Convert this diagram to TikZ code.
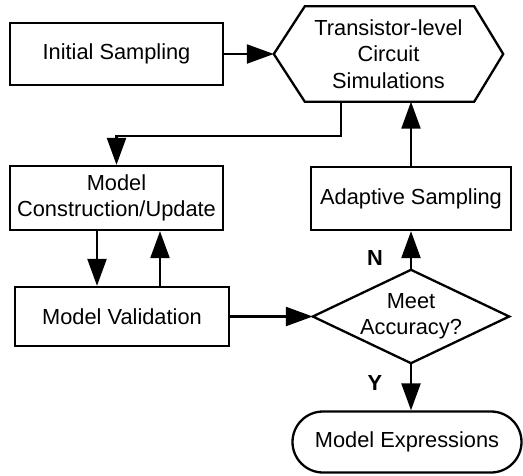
\documentclass[tikz,border=0pt]{standalone}
\usepackage{fontspec}
\setmainfont{Liberation Sans}
\usetikzlibrary{arrows.meta,shapes.misc,shapes.geometric}
\begin{document}
\begin{tikzpicture}[x=1pt,y=-1pt,
  every node/.style={font=\fontsize{21.8}{26.5}\selectfont, align=center, inner sep=0pt},
  box/.style={draw, line width=2.3pt, rectangle},
  ghost/.style={draw=none, rectangle},
  conn/.style={line width=2.3pt, -{Triangle[length=27pt,width=19pt]}},
  lbl/.style={font=\fontsize{21.8}{26.5}\selectfont\bfseries}
]
\useasboundingbox (0,0) rectangle (523,475);
\node[box, minimum width=213pt, minimum height=62pt] (init) at (116.5,54) {Initial Sampling};
\node[ghost, minimum width=229pt, minimum height=95pt] (hex) at (388.5,54) {Transistor-level\\Circuit\\Simulations};
\draw[line width=2.3pt, line join=miter] (hex.west) -- ([xshift=31pt]hex.north west) -- ([xshift=-29pt]hex.north east) -- (hex.east) -- ([xshift=-29pt]hex.south east) -- ([xshift=31pt]hex.south west) -- cycle;
\node[box, minimum width=213pt, minimum height=64pt] (mc) at (116.5,198) {Model\\Construction/Update};
\node[box, minimum width=200pt, minimum height=63pt] (as) at (411,198.5) {Adaptive Sampling};
\node[box, minimum width=214pt, minimum height=59pt] (mv) at (122,316.5) {Model Validation};
\node[ghost, minimum width=196pt, minimum height=93pt] (dia) at (411,316.5) {Meet\\Accuracy?};
\draw[line width=2.3pt, line join=miter] (dia.west) -- (dia.north) -- (dia.east) -- (dia.south) -- cycle;
\node[draw, line width=2.3pt, rounded rectangle, minimum width=229pt, minimum height=61pt] (me) at (407,442) {Model Expressions};
\node[lbl] (n) at (375,258) {N};
\node[lbl] (y) at (375,383) {Y};

\draw[conn] (init.east) -- (hex.west);
\draw[conn] ([xshift=-47.5pt]hex.south) -- ++(0,34) -| (mc.north);
\draw[conn] (as.north) -- (as.north |- hex.south);
\draw[conn] ([xshift=-19.5pt]mc.south) -- ([xshift=-19.5pt]mc.south |- mv.north);
\draw[conn] ([xshift=43.5pt]mc.south |- mv.north) -- ([xshift=43.5pt]mc.south);
\draw[conn] (mv.east) -- (dia.west);
\draw[conn] (dia.north) -- (as.south);
\draw[conn] (dia.south) -- (dia.south |- me.north);
\end{tikzpicture}
\end{document}
